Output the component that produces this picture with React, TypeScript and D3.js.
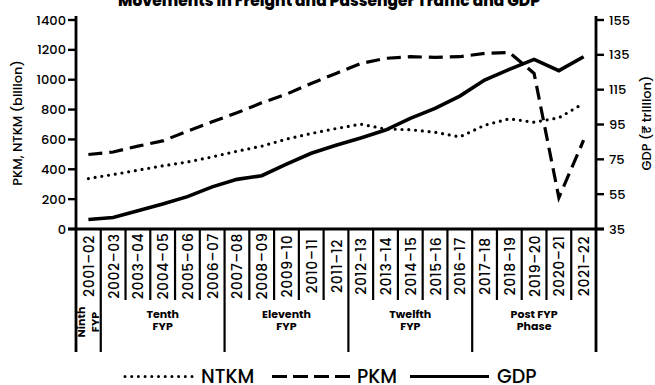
import React from "react";
import * as d3 from "d3";

const years = ["2001–02","2002–03","2003–04","2004–05","2005–06","2006–07","2007–08","2008–09","2009–10","2010–11","2011–12","2012–13","2013–14","2014–15","2015–16","2016–17","2017–18","2018–19","2019–20","2020–21","2021–22"];
const ntkm = [338, 365, 394, 423, 449, 483, 521, 555, 602, 640, 673, 702, 670, 665, 648, 617, 695, 738, 715, 745, 841];
const pkm = [499, 516, 555, 590, 655, 718, 778, 845, 903, 975, 1042, 1109, 1143, 1154, 1150, 1154, 1176, 1183, 1042, 210, 595];
const gdp = [40.5, 41.6, 45.5, 49.3, 53.6, 59.2, 63.5, 65.6, 72.2, 78.5, 83.1, 87.3, 91.8, 98.5, 104.2, 111.3, 120.5, 126.7, 132.4, 125.9, 133.9];
const leftTicks = [0, 200, 400, 600, 800, 1000, 1200, 1400];
const rightTicks = [35, 55, 75, 95, 115, 135, 155];
const groups = [
  { lines: ["Ninth", "FYP"], start: 0, end: 1, rotated: true },
  { lines: ["Tenth", "FYP"], start: 1, end: 6, rotated: false },
  { lines: ["Eleventh", "FYP"], start: 6, end: 11, rotated: false },
  { lines: ["Twelfth", "FYP"], start: 11, end: 16, rotated: false },
  { lines: ["Post FYP", "Phase"], start: 16, end: 21, rotated: false },
];
const title = "Movements in Freight and Passenger Traffic and GDP";

const FONT = "Poppins, 'Open Sans', 'Noto Sans', sans-serif";

export default function App() {
  const W = 655, H = 385;
  const left = 76, right = 596, top = 20, bottom = 229;
  const x = d3.scaleBand<string>().domain(years).range([left, right]).paddingInner(0).paddingOuter(0);
  const yL = d3.scaleLinear().domain([0, 1400]).range([bottom, top]);
  const yR = d3.scaleLinear().domain([35, 155]).range([bottom, top]);
  const cx = (i: number) => (x(years[i]) as number) + x.bandwidth() / 2;

  const lineL = d3.line<number>().x((_, i) => cx(i)).y((d) => yL(d)).curve(d3.curveLinear);
  const lineR = d3.line<number>().x((_, i) => cx(i)).y((d) => yR(d)).curve(d3.curveLinear);

  const bw = x.bandwidth();
  const groupBounds = new Set(groups.flatMap((g) => [g.start, g.end]));
  const dividers = d3.range(years.length + 1);

  return (
    <svg width={W} height={H} style={{ position: "absolute", left: 0, top: 0, background: "#fff" }} fontFamily={FONT}>
      <rect width={W} height={H} fill="#fff" />
      <text x={329} y={5.5} textAnchor="middle" fontSize={16} fontWeight={800} textLength={422} lengthAdjust="spacingAndGlyphs">{title}</text>

      {/* data lines */}
      <path d={lineL(ntkm) || ""} fill="none" stroke="#000" strokeWidth={3.2} strokeDasharray="0,6.8" strokeLinecap="round" />
      <path d={lineL(pkm) || ""} fill="none" stroke="#000" strokeWidth={3.2} strokeDasharray="14,7" />
      <path d={lineR(gdp) || ""} fill="none" stroke="#000" strokeWidth={3.6} strokeLinejoin="miter" />

      {/* axes */}
      <line x1={left} x2={left} y1={16} y2={352} stroke="#000" strokeWidth={2.8} />
      <line x1={right} x2={right} y1={16} y2={352} stroke="#000" strokeWidth={2.8} />
      <line x1={left - 8} x2={right + 8} y1={bottom} y2={bottom} stroke="#000" strokeWidth={2.8} />
      {leftTicks.map((t) => (
        <g key={"l" + t}>
          <line x1={left - 8} x2={left} y1={yL(t)} y2={yL(t)} stroke="#000" strokeWidth={2.4} />
          <text x={left - 10} y={yL(t)} dy="0.35em" textAnchor="end" fontSize={13} fontWeight={500}>{t}</text>
        </g>
      ))}
      {rightTicks.map((t) => (
        <g key={"r" + t}>
          <line x1={right} x2={right + 8} y1={yR(t)} y2={yR(t)} stroke="#000" strokeWidth={2.4} />
          <text x={right + 13} y={yR(t)} dy="0.35em" textAnchor="start" fontSize={13} fontWeight={500}>{t}</text>
        </g>
      ))}
      <text transform={`translate(17,123) rotate(-90)`} textAnchor="middle" dy="0.35em" fontSize={13} fontWeight={500}>PKM, NTKM (billion)</text>
      <text transform={`translate(646,123) rotate(-90)`} textAnchor="middle" dy="0.35em" fontSize={13} fontWeight={500}>GDP (₹ trillion)</text>

      {/* category dividers */}
      {dividers.map((k) => {
        const xx = left + k * bw;
        if (k === 0 || k === years.length) return null;
        const isGroup = groupBounds.has(k);
        return <line key={"d" + k} x1={xx} x2={xx} y1={bottom} y2={isGroup ? 352 : 300} stroke="#000" strokeWidth={2.2} />;
      })}
      {years.map((yr, i) => (
        <text key={yr} transform={`translate(${cx(i) + 0.5},266) rotate(-90)`} textAnchor="middle" dy="0.36em" fontSize={14} fontWeight={500} letterSpacing={0.6}>{yr}</text>
      ))}
      {groups.map((g) => {
        const gx0 = left + g.start * bw, gx1 = left + g.end * bw;
        const gc = (gx0 + gx1) / 2;
        if (g.rotated) {
          return (
            <g key={g.lines[0]}>
              <text transform={`translate(${gc - 7.5},322) rotate(-90)`} textAnchor="middle" dy="0.36em" fontSize={11} fontWeight={700}>{g.lines[0]}</text>
              <text transform={`translate(${gc + 6.5},322) rotate(-90)`} textAnchor="middle" dy="0.36em" fontSize={11} fontWeight={700}>{g.lines[1]}</text>
            </g>
          );
        }
        return (
          <g key={g.lines[0]}>
            <text x={gc} y={317.5} textAnchor="middle" fontSize={11} fontWeight={700}>{g.lines[0]}</text>
            <text x={gc} y={329.5} textAnchor="middle" fontSize={11} fontWeight={700}>{g.lines[1]}</text>
          </g>
        );
      })}

      {/* legend */}
      <line x1={125} x2={192} y1={376.5} y2={376.5} stroke="#000" strokeWidth={3} strokeDasharray="0,6.7" strokeLinecap="round" />
      <text x={201} y={383} fontSize={19} fontWeight={500}>NTKM</text>
      <line x1={272} x2={350} y1={376.5} y2={376.5} stroke="#000" strokeWidth={3} strokeDasharray="15,6" />
      <text x={357} y={383} fontSize={19} fontWeight={500}>PKM</text>
      <line x1={410} x2={489} y1={376.5} y2={376.5} stroke="#000" strokeWidth={3} />
      <text x={497} y={383} fontSize={19} fontWeight={500}>GDP</text>
    </svg>
  );
}
